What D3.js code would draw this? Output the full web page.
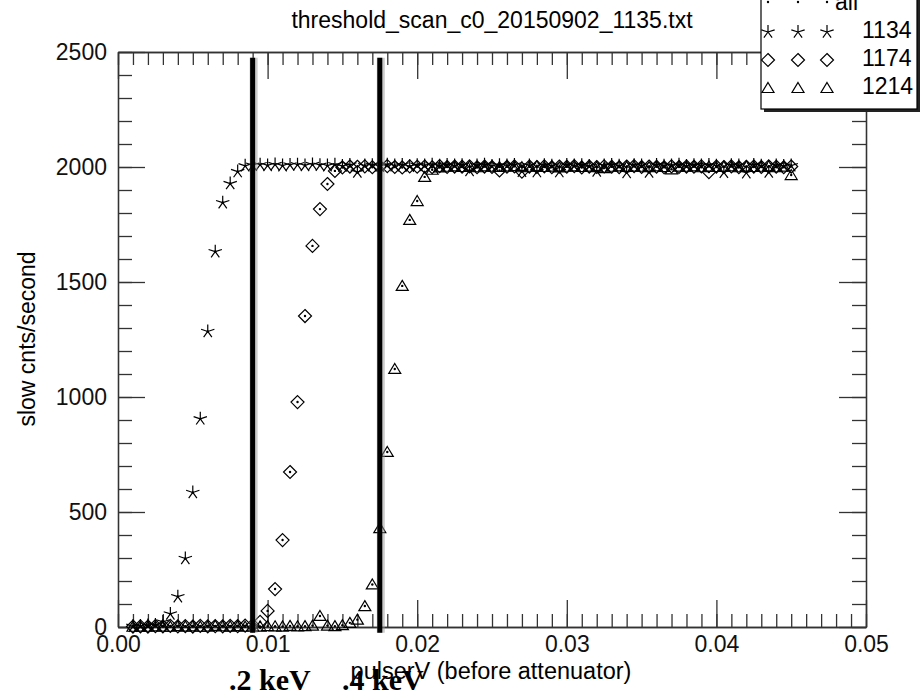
<!DOCTYPE html>
<html lang="en">
<head>
    <meta charset="UTF-8">
    <title>threshold scan</title>
    <script src="https://d3js.org/d3.v7.min.js"></script>
    <style>
        body {
            margin: 0;
            background: #fff;
        }
        svg {
            display: block;
            font-family: "Liberation Sans", Arial, Helvetica, sans-serif;
        }
        .axis path, .axis line {
            stroke: #333;
            stroke-width: 1.3;
        }
        .axis text {
            font-size: 23px;
            fill: #111;
        }
    </style>
</head>
<body>
    <div id="container"></div>

    <script>
        // pulser voltage steps (before attenuator)
        const pulserV = [
            0.0010, 0.0015, 0.0020, 0.0025, 0.0030, 0.0035, 0.0040, 0.0045, 0.0050, 0.0055,
            0.0060, 0.0065, 0.0070, 0.0075, 0.0080, 0.0085, 0.0090, 0.0095, 0.0100, 0.0105,
            0.0110, 0.0115, 0.0120, 0.0125, 0.0130, 0.0135, 0.0140, 0.0145, 0.0150, 0.0155,
            0.0160, 0.0165, 0.0170, 0.0175, 0.0180, 0.0185, 0.0190, 0.0195, 0.0200, 0.0205,
            0.0210, 0.0215, 0.0220, 0.0225, 0.0230, 0.0235, 0.0240, 0.0245, 0.0250, 0.0255,
            0.0260, 0.0265, 0.0270, 0.0275, 0.0280, 0.0285, 0.0290, 0.0295, 0.0300, 0.0305,
            0.0310, 0.0315, 0.0320, 0.0325, 0.0330, 0.0335, 0.0340, 0.0345, 0.0350, 0.0355,
            0.0360, 0.0365, 0.0370, 0.0375, 0.0380, 0.0385, 0.0390, 0.0395, 0.0400, 0.0405,
            0.0410, 0.0415, 0.0420, 0.0425, 0.0430, 0.0435, 0.0440, 0.0445, 0.0450
        ];

        // slow counts per second for each threshold setting
        const cnts1134 = [
            3, 4, 6, 9, 22, 57, 132, 298, 585, 905,
            1285, 1632, 1845, 1928, 1980, 2005, 2008, 2010, 2007, 2011,
            2006, 2009, 2010, 2007, 2011, 2008, 2006, 2010, 2004, 2009,
            1978, 2006, 2008, 2004, 2010, 2006, 2009, 2003, 2008, 2007,
            2010, 2005, 2009, 2006, 2008, 1985, 2007, 2010, 2004, 2008,
            2006, 2009, 1982, 2007, 1980, 2008, 2005, 1980, 2009, 2006,
            2008, 2004, 1983, 2007, 2009, 2005, 1976, 2008, 2006, 1978,
            2009, 2005, 2007, 2010, 2004, 2008, 2006, 2009, 2005, 1977,
            2008, 2006, 1975, 2009, 2005, 1978, 2007, 2004, 2006
        ];
        const cnts1174 = [
            2, 3, 2, 4, 3, 5, 3, 4, 2, 5,
            3, 4, 3, 5, 4, 6, 8, 22, 70, 165,
            378, 674, 978, 1352, 1657, 1817, 1926, 1983, 1998, 2002,
            2001, 2003, 1999, 2002, 2004, 2000, 1998, 2003, 2001, 2002,
            1999, 2004, 2000, 2002, 2001, 2003, 1999, 2002, 2000, 1985,
            2001, 2003, 1980, 2002, 2000, 2003, 1999, 2002, 2001, 2004,
            1998, 2002, 2000, 2003, 2001, 1999, 2002, 2004, 2000, 2002,
            2001, 1999, 2003, 2000, 2002, 2001, 2003, 1978, 2002, 2000,
            2003, 1999, 2001, 2002, 2000, 2003, 2001, 1999, 2002
        ];
        const cnts1214 = [
            1, 2, 1, 3, 2, 1, 4, 2, 3, 1,
            2, 5, 3, 2, 4, 1, 3, 2, 4, 3,
            2, 5, 3, 4, 6, 48, 6, 4, 8, 18,
            32, 91, 185, 430, 761, 1122, 1483, 1770, 1852, 1957,
            1988, 1998, 2001, 2003, 2000, 2002, 1999, 2003, 2001, 2000,
            2002, 2004, 1999, 2001, 2003, 2000, 2002, 1998, 2001, 2003,
            2000, 2002, 1999, 1995, 2001, 2003, 2000, 2002, 2001, 1999,
            2003, 2000, 1990, 2002, 2001, 2003, 1999, 2002, 2000, 2001,
            2003, 1999, 2002, 2000, 2001, 2003, 1999, 2002, 1965
        ];

        const seriesNames = ['all', '1134', '1174', '1214'];
        const xTickLabels = [0, 0.01, 0.02, 0.03, 0.04, 0.05];
        const yTickLabels = [0, 500, 1000, 1500, 2000, 2500];
        const keVMarks = [0.009, 0.0175];
        const keVLabels = ['.2 keV', '.4 keV'];

        const width = 920;
        const height = 695;

        const svg = d3.select('#container')
            .append('svg')
            .attr('width', width)
            .attr('height', height);

        const x = d3.scaleLinear().domain([0, 0.05]).range([118, 866]);
        const y = d3.scaleLinear().domain([0, 2500]).range([627, 52]);

        const minorX = d3.range(0, 51).map(i => i / 1000);
        const minorY = d3.range(0, 26).map(i => i * 100);

        // frame + ticks (all pointing inward)
        function drawAxis(axis, tr) {
            svg.append('g').attr('class', 'axis').attr('transform', tr).call(axis);
        }
        drawAxis(d3.axisBottom(x).tickValues(minorX).tickSize(-13).tickSizeOuter(0).tickFormat(''), 'translate(0,627)');
        drawAxis(d3.axisBottom(x).tickValues(xTickLabels).tickSize(-27).tickSizeOuter(0)
            .tickPadding(9).tickFormat(d3.format('.2f')), 'translate(0,627)');
        drawAxis(d3.axisTop(x).tickValues(minorX).tickSize(-13).tickSizeOuter(0).tickFormat(''), 'translate(0,52)');
        drawAxis(d3.axisTop(x).tickValues(xTickLabels).tickSize(-27).tickSizeOuter(0).tickFormat(''), 'translate(0,52)');
        drawAxis(d3.axisLeft(y).tickValues(minorY).tickSize(-14).tickSizeOuter(0).tickFormat(''), 'translate(118,0)');
        drawAxis(d3.axisLeft(y).tickValues(yTickLabels).tickSize(-27).tickSizeOuter(0)
            .tickPadding(11).tickFormat(d3.format('d')), 'translate(118,0)');
        drawAxis(d3.axisRight(y).tickValues(minorY).tickSize(-14).tickSizeOuter(0).tickFormat(''), 'translate(866,0)');
        drawAxis(d3.axisRight(y).tickValues(yTickLabels).tickSize(-27).tickSizeOuter(0).tickFormat(''), 'translate(866,0)');

        // marker shapes
        function starPath(r) {
            let p = '';
            for (let k = 0; k < 5; k++) {
                const a = -Math.PI / 2 + k * 2 * Math.PI / 5;
                p += 'M0,0L' + (r * Math.cos(a)).toFixed(2) + ',' + (r * Math.sin(a)).toFixed(2);
            }
            return p;
        }
        const shapes = {
            '1134': starPath(7),
            '1174': 'M0,-6.5L6.5,0L0,6.5L-6.5,0Z',
            '1214': 'M0,-5.5L6,4.5L-6,4.5Z'
        };

        const seriesData = {
            '1134': cnts1134,
            '1174': cnts1174,
            '1214': cnts1214
        };

        const plot = svg.append('g');

        ['1134', '1174', '1214'].forEach(name => {
            plot.selectAll('.m' + name)
                .data(seriesData[name])
                .enter()
                .append('path')
                .attr('class', 'm' + name)
                .attr('transform', (d, i) => 'translate(' + x(pulserV[i]) + ',' + y(d) + ')')
                .attr('d', shapes[name])
                .attr('fill', 'none')
                .attr('stroke', '#000')
                .attr('stroke-width', 1.2);
        });

        // "all" trace drawn as dots on every point
        const allPts = [];
        ['1134', '1174', '1214'].forEach(name => {
            seriesData[name].forEach((v, i) => allPts.push([pulserV[i], v]));
        });
        plot.selectAll('.dot')
            .data(allPts)
            .enter()
            .append('circle')
            .attr('class', 'dot')
            .attr('cx', d => x(d[0]))
            .attr('cy', d => y(d[1]))
            .attr('r', 1.2)
            .attr('fill', '#000');

        // threshold markers
        svg.selectAll('.keVshadow')
            .data(keVMarks)
            .enter()
            .append('line')
            .attr('x1', d => x(d) + 1).attr('x2', d => x(d) + 1)
            .attr('y1', y(2475)).attr('y2', y(-25))
            .attr('stroke', '#999')
            .attr('stroke-opacity', 0.5)
            .attr('stroke-width', 8);
        svg.selectAll('.keVline')
            .data(keVMarks)
            .enter()
            .append('line')
            .attr('x1', d => x(d)).attr('x2', d => x(d))
            .attr('y1', y(2475)).attr('y2', y(-25))
            .attr('stroke', '#000')
            .attr('stroke-width', 5);

        // title and axis labels
        svg.append('text')
            .attr('x', 492).attr('y', 28)
            .attr('text-anchor', 'middle')
            .attr('font-size', 23)
            .text('threshold_scan_c0_20150902_1135.txt');

        svg.append('text')
            .attr('x', 491).attr('y', 679)
            .attr('text-anchor', 'middle')
            .attr('font-size', 23.5)
            .text('pulserV (before attenuator)');

        svg.append('text')
            .attr('transform', 'translate(35,339) rotate(-90)')
            .attr('text-anchor', 'middle')
            .attr('font-size', 23)
            .text('slow cnts/second');

        svg.selectAll('.keVlabel')
            .data(keVLabels)
            .enter()
            .append('text')
            .attr('x', (d, i) => [229, 342][i])
            .attr('y', 690)
            .attr('font-family', '"Liberation Serif", "Times New Roman", serif')
            .attr('font-weight', 'bold')
            .attr('font-size', 30)
            .text(d => d);

        // legend
        const legend = svg.append('g');
        legend.append('rect')
            .attr('x', 764).attr('y', -5)
            .attr('width', 156).attr('height', 117)
            .attr('fill', '#222');
        legend.append('rect')
            .attr('x', 761).attr('y', -8)
            .attr('width', 156).attr('height', 117)
            .attr('fill', '#fff')
            .attr('stroke', '#000')
            .attr('stroke-width', 1.2);

        const symX = [768, 798, 827];
        seriesNames.forEach((name, r) => {
            const cy = 4 + r * 28;
            symX.forEach(sx => {
                if (name === 'all') {
                    legend.append('circle').attr('cx', sx).attr('cy', cy - 2).attr('r', 1.2).attr('fill', '#000');
                } else {
                    legend.append('path')
                        .attr('transform', 'translate(' + sx + ',' + cy + ')')
                        .attr('d', shapes[name])
                        .attr('fill', 'none')
                        .attr('stroke', '#000')
                        .attr('stroke-width', 1.2);
                }
            });
            legend.append('text')
                .attr('x', name === 'all' ? 835 : 862)
                .attr('y', 10 + r * 28)
                .attr('font-size', 23)
                .text(name);
        });
    </script>
</body>
</html>
